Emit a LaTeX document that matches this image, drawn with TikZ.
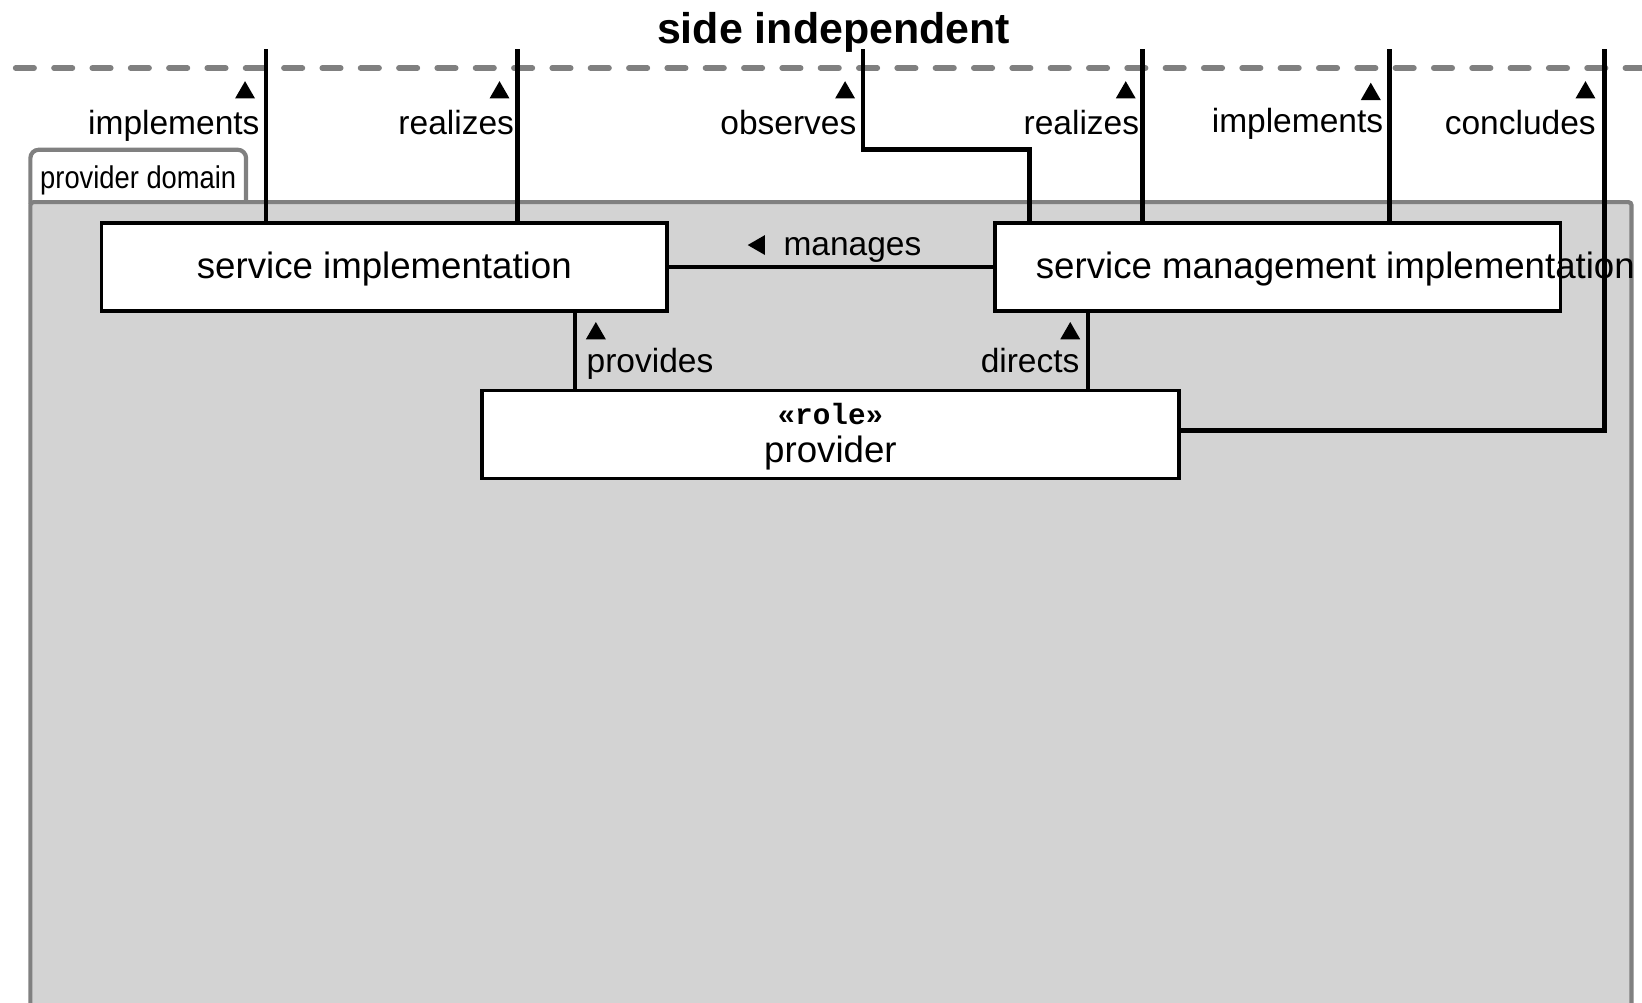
\documentclass[tikz,border=0pt]{standalone}
\usepackage{fontspec}
\setmainfont{Liberation Sans}
\setmonofont{Liberation Mono}
\newfontfamily\tabfont[FakeStretch=0.87]{Liberation Sans}
\usetikzlibrary{shapes.geometric}
\definecolor{pkg_fill}{RGB}{211, 211, 211}
\definecolor{pkg_line}{RGB}{128, 128, 128}
\tikzstyle{cls}=[rectangle,draw=black,fill=white,line width=3.5pt,
  inner sep=0pt,minimum width=540pt,minimum height=84pt]
\tikzstyle{lbl}=[inner sep=0pt,font=\fontsize{32}{38}\selectfont]
\tikzstyle{big}=[inner sep=0pt,font=\fontsize{35}{42}\selectfont]
\tikzstyle{tri}=[regular polygon,regular polygon sides=3,fill=black,
  inner sep=0pt,minimum size=22pt]
\tikzstyle{wire}=[line width=4.5pt]
\tikzstyle{pkg}=[draw=pkg_line,line width=4pt,rounded corners=8pt]
\tikzstyle{none}=[inner sep=0pt,minimum size=0pt]

\begin{document}
\begin{tikzpicture}[x=1pt,y=-1pt]
            \useasboundingbox (0, 0) rectangle (1568, 957);
            \clip (0, 0) rectangle (1568, 957);
            % package
            \draw [style=pkg,fill=white] (29, 195) -- (29, 143) -- (235, 143) -- (235, 195);
            \draw [style=pkg,fill=pkg_fill,rounded corners=3pt] (29, 990) -- (29, 193) -- (1558, 193) -- (1558, 990);
            \node [font=\tabfont\fontsize{30}{36}\selectfont,inner sep=0pt,anchor=base] (40) at (132, 180) {provider domain};
            % boundary
            \draw [draw=pkg_line,line width=5.5pt,line cap=round,dash pattern=on 17.5pt off 19.1pt] (15, 65) -- (1575, 65);
            \node [font=\bfseries\fontsize{41}{48}\selectfont,inner sep=0pt,anchor=base] (30) at (796, 41.5) {side independent};
            % classes
            \node [style=cls] (0) at (367, 255) {};
            \node [style=cls] (1) at (1220, 255) {};
            \node [style=cls,minimum width=666pt] (3) at (793, 415) {};
            \node [style=big,anchor=base] (6) at (367, 266) {service implementation};
            \node [style=none,anchor=base] (4) at (793, 405) {\ttfamily\bfseries\fontsize{28}{30}\selectfont «role»};
            \node [style=big,anchor=base] (5) at (793, 442) {provider};
            % free ends
            \node [style=none] (10) at (254, 47) {};
            \node [style=none] (11) at (494, 47) {};
            \node [style=none] (12) at (824, 47) {};
            \node [style=none] (13) at (983, 143) {};
            \node [style=none] (14) at (1091, 47) {};
            \node [style=none] (15) at (1327, 47) {};
            \node [style=none] (16) at (1532, 47) {};
            \node [style=none] (20) at (549, 335) {};
            \node [style=none] (21) at (1039, 335) {};
            \draw [style=wire] (10.center) to (10.center |- 0.north);
            \draw [style=wire] (11.center) to (11.center |- 0.north);
            \draw [style=wire] (12.center) |- (13.center) -- (13.center |- 1.north);
            \draw [style=wire] (14.center) to (14.center |- 1.north);
            \draw [style=wire] (15.center) to (15.center |- 1.north);
            \draw [style=wire] (16.center) |- ([yshift=4pt]3.east);
            \draw [style=wire] (0) to (1);
            \draw [style=wire] (20.center |- 0.south) to (20.center |- 3.north);
            \draw [style=wire] (21.center |- 1.south) to (21.center |- 3.north);
            \node [style=big,anchor=base west] (2) at (989, 266) {service management implementation};
            % labels
            \node [style=lbl,anchor=base east] (50) at (248, 128) {implements};
            \node [style=tri] (60) at (234, 88.5) {};
            \node [style=lbl,anchor=base east] (51) at (491, 128) {realizes};
            \node [style=tri] (61) at (477, 88.5) {};
            \node [style=lbl,anchor=base east] (52) at (818, 128) {observes};
            \node [style=tri] (62) at (807, 88.5) {};
            \node [style=lbl,anchor=base east] (53) at (1088, 128) {realizes};
            \node [style=tri] (63) at (1075, 88.5) {};
            \node [style=lbl,anchor=base east] (54) at (1321, 127) {implements};
            \node [style=tri] (64) at (1309, 90) {};
            \node [style=lbl,anchor=base east] (55) at (1524, 128) {concludes};
            \node [style=tri] (65) at (1514, 88.5) {};
            \node [style=lbl,anchor=base west] (56) at (748, 244) {manages};
            \node [style=tri,rotate=90] (66) at (725, 234) {};
            \node [style=lbl,anchor=base west] (57) at (560, 356) {provides};
            \node [style=tri] (67) at (569, 318.5) {};
            \node [style=lbl,anchor=base east] (58) at (1031, 356) {directs};
            \node [style=tri] (68) at (1022, 318.5) {};
    \end{tikzpicture}
\end{document}
